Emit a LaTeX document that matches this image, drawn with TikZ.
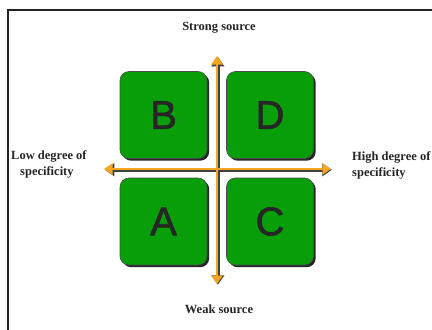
\documentclass[tikz,border=0pt]{standalone}
\usepackage{fontspec}
\setmainfont{Liberation Serif}
\newfontfamily\letterfont[FakeBold=1.6]{Liberation Sans}
\usetikzlibrary{arrows.meta,shadows}
\definecolor{boxgreen}{RGB}{8,158,8}
\definecolor{axisorange}{RGB}{246,166,30}
\definecolor{framegray}{RGB}{35,35,35}
\tikzset{
  quad/.style={draw=black!70, line width=0.6pt, fill=boxgreen, rounded corners=9pt,
    minimum width=87pt, minimum height=87pt, inner sep=0pt,
    drop shadow={shadow xshift=2.2pt, shadow yshift=-2.2pt, fill=black, opacity=0.85},
    font=\letterfont\fontsize{40}{40}\selectfont, text=black!85},
  axislabel/.style={font=\bfseries\fontsize{12.5}{16}\selectfont, text=black!85, inner sep=0pt},
  axisshadow/.style={line width=3.6pt, draw=black!75, -{Triangle[width=12.5pt,length=9.5pt]}},
  axisline/.style={line width=2.4pt, draw=axisorange, -{Triangle[width=11pt,length=8.5pt]}},
}
\begin{document}
\begin{tikzpicture}[x=1pt,y=-1pt]
\useasboundingbox (0,0) rectangle (432,330);
\fill[white] (0,0) rectangle (432,330);
% frame
\draw[framegray, line width=2.4pt] (8,330) -- (8,10) -- (432,10);
% boxes
\node[quad] (B) at (163.5,115) {B};
\node[quad] (D) at (270,115) {D};
\node[quad] (A) at (163.5,221.5) {A};
\node[quad] (C) at (270,221.5) {C};
% axis end points
\coordinate (top) at (217,56);
\coordinate (bot) at (217,284);
\coordinate (lft) at (104,169);
\coordinate (rgt) at (331,169);
\coordinate (ctr) at (217,169);
% axes
\draw[axisshadow] ([xshift=0.8pt]ctr) -- ([xshift=0.8pt,yshift=-0.8pt]top);
\draw[axisshadow] ([xshift=0.8pt]ctr) -- ([xshift=0.8pt,yshift=-0.8pt]bot);
\draw[axisshadow] ([yshift=-0.8pt]ctr) -- ([xshift=0.8pt,yshift=-0.8pt]lft);
\draw[axisshadow] ([yshift=-0.8pt]ctr) -- ([xshift=0.8pt,yshift=-0.8pt]rgt);
\draw[axisline] (ctr) -- (top);
\draw[axisline] (ctr) -- (bot);
\draw[axisline] (ctr) -- (lft);
\draw[axisline] (ctr) -- (rgt);
% labels
\node[axislabel] (strong) at (219,28) {Strong source};
\node[axislabel] (weak) at (219,309) {Weak source};
\node[axislabel, anchor=west, align=left] (low) at (11,164) {Low degree of\\\hspace*{9pt}specificity};
\node[axislabel, anchor=west, align=left] (high) at (352,165) {High degree of\\specificity};
\end{tikzpicture}
\end{document}
